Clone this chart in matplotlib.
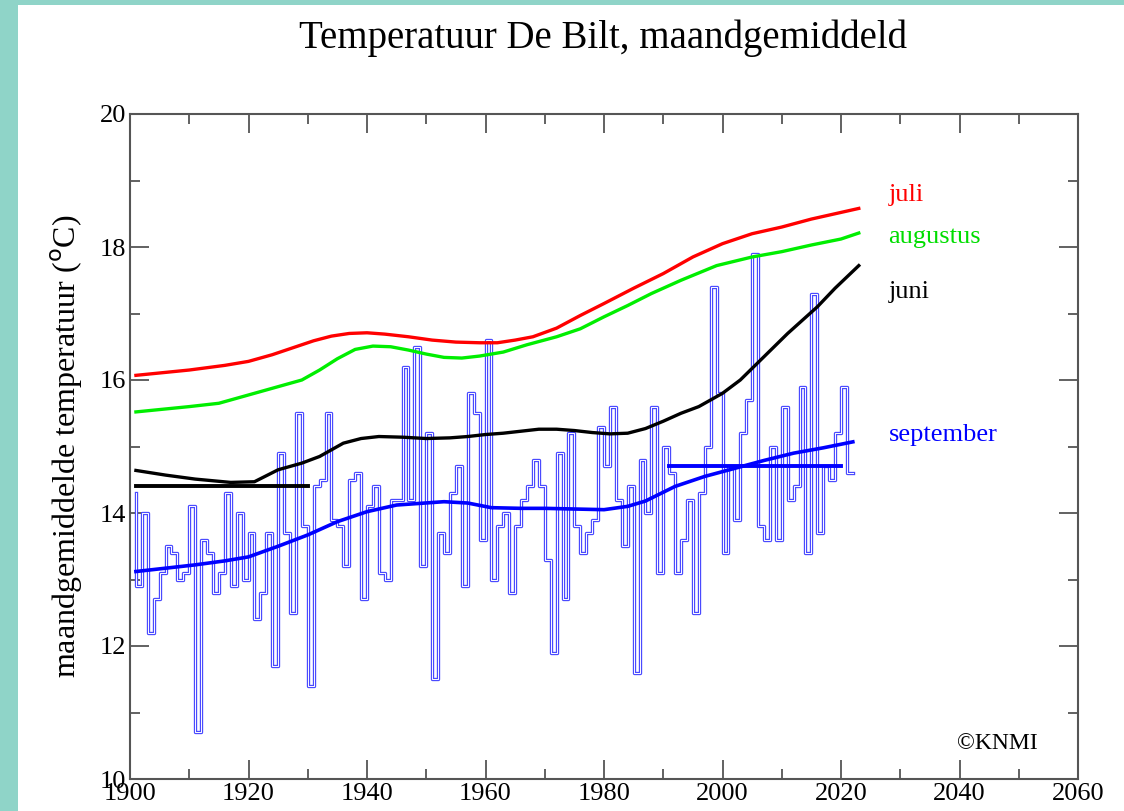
import numpy as np
import matplotlib.pyplot as plt
from matplotlib.patches import Rectangle
from matplotlib.ticker import MultipleLocator

plt.rcParams['font.family'] = ['Liberation Serif', 'DejaVu Serif']

# September maandgemiddelde per jaar (De Bilt)
sep_years = np.arange(1901, 2023)
sep_temp = [
    14.3, 12.9, 14.0, 12.2, 12.7, 13.1, 13.5, 13.4, 13.0, 13.1,
    14.1, 10.7, 13.6, 13.4, 12.8, 13.1, 14.3, 12.9, 14.0, 13.0,
    13.7, 12.4, 12.8, 13.7, 11.7, 14.9, 13.7, 12.5, 15.5, 13.8,
    11.4, 14.4, 14.5, 15.5, 13.9, 13.8, 13.2, 14.5, 14.6, 12.7,
    14.1, 14.4, 13.1, 13.0, 14.2, 14.2, 16.2, 14.2, 16.5, 13.2,
    15.2, 11.5, 13.7, 13.4, 14.3, 14.7, 12.9, 15.8, 15.5, 13.6,
    16.6, 13.0, 13.8, 14.0, 12.8, 13.8, 14.2, 14.4, 14.8, 14.4,
    13.3, 11.9, 14.9, 12.7, 15.2, 13.8, 13.4, 13.7, 13.9, 15.3,
    14.7, 15.6, 14.2, 13.5, 14.4, 11.6, 14.8, 14.0, 15.6, 13.1,
    15.0, 14.6, 13.1, 13.6, 14.2, 12.5, 14.3, 15.0, 17.4, 15.8,
    13.4, 14.7, 13.9, 15.2, 15.7, 17.9, 13.8, 13.6, 15.0, 13.6,
    15.6, 14.2, 14.4, 15.9, 13.4, 17.3, 13.7, 14.7, 14.5, 15.2,
    15.9, 14.6,
]

juli_years = [1901, 1910, 1916, 1920, 1924, 1928, 1931, 1934, 1937, 1940, 1943, 1947, 1951,
              1955, 1959, 1962, 1965, 1968, 1972, 1976, 1980, 1985, 1990, 1995, 2000, 2005,
              2010, 2015, 2020, 2023]
juli_temp = [16.07, 16.15, 16.22, 16.28, 16.38, 16.5, 16.59, 16.66, 16.7, 16.71, 16.69, 16.65, 16.6,
             16.57, 16.56, 16.56, 16.6, 16.65, 16.78, 16.97, 17.15, 17.38, 17.6, 17.85, 18.05, 18.2,
             18.3, 18.42, 18.52, 18.58]

aug_years = [1901, 1910, 1915, 1921, 1925, 1929, 1932, 1935, 1938, 1941, 1944, 1947, 1950,
             1953, 1956, 1959, 1963, 1967, 1972, 1976, 1980, 1984, 1988, 1993, 1999, 2005,
             2010, 2015, 2020, 2023]
aug_temp = [15.52, 15.6, 15.65, 15.8, 15.9, 16.0, 16.15, 16.32, 16.46, 16.51, 16.5, 16.45, 16.39,
            16.34, 16.33, 16.36, 16.42, 16.53, 16.65, 16.77, 16.95, 17.12, 17.3, 17.5, 17.72, 17.85,
            17.93, 18.03, 18.12, 18.21]

juni_years = [1901, 1906, 1911, 1917, 1921, 1925, 1929, 1932, 1934, 1936, 1939, 1942, 1946,
              1950, 1954, 1957, 1960, 1963, 1966, 1969, 1972, 1975, 1978, 1981, 1984, 1987,
              1990, 1993, 1996, 2000, 2003, 2007, 2011, 2016, 2019, 2023]
juni_temp = [14.64, 14.57, 14.51, 14.46, 14.47, 14.65, 14.75, 14.85, 14.95, 15.05, 15.12, 15.15, 15.14,
             15.12, 15.13, 15.15, 15.18, 15.2, 15.23, 15.26, 15.26, 15.24, 15.21, 15.19, 15.2, 15.27,
             15.38, 15.5, 15.6, 15.8, 16.0, 16.35, 16.7, 17.1, 17.38, 17.72]

sep_trend_years = [1901, 1911, 1916, 1920, 1925, 1930, 1935, 1940, 1945, 1953, 1957, 1961, 1966,
                   1970, 1975, 1980, 1984, 1987, 1992, 1997, 2002, 2007, 2012, 2017, 2022]
sep_trend_temp = [13.12, 13.22, 13.28, 13.34, 13.5, 13.67, 13.87, 14.02, 14.12, 14.17, 14.15, 14.08, 14.07,
                  14.07, 14.06, 14.05, 14.1, 14.18, 14.4, 14.55, 14.67, 14.79, 14.9, 14.98, 15.07]

# Normalen
norm_1901_years = [1901, 1930]
norm_1901_temp = [14.41, 14.41]
norm_1991_years = [1991, 2020]
norm_1991_temp = [14.70, 14.70]

fig = plt.figure(figsize=(11.24, 8.11), dpi=100, facecolor='#8fd4c8')
fig.patches.append(Rectangle((18 / 1124, 0), 1, 1 - 5 / 811, transform=fig.transFigure,
                             facecolor='white', edgecolor='none', zorder=-10))
ax = fig.add_axes([130 / 1124, 1 - 779 / 811, 948 / 1124, 665 / 811])

# jaarwaarden september als trappen (hol getekend)
ax.step(sep_years, sep_temp, where='pre', color='#4a4aff', lw=2.4, zorder=2)
ax.step(sep_years, sep_temp, where='pre', color='white', lw=0.7, zorder=2)

ax.plot(norm_1901_years, norm_1901_temp, color='black', lw=2.8, zorder=3)
ax.plot(norm_1991_years, norm_1991_temp, color='#0000ff', lw=2.8, zorder=3)

ax.plot(juli_years, juli_temp, color='#ff0000', lw=2.4, zorder=4)
ax.plot(aug_years, aug_temp, color='#00ee00', lw=2.4, zorder=4)
ax.plot(juni_years, juni_temp, color='black', lw=2.4, zorder=4)
ax.plot(sep_trend_years, sep_trend_temp, color='#0000ff', lw=2.6, zorder=4)

ax.text(2028, 18.78, 'juli', color='#ff0000', fontsize=19, va='center')
ax.text(2028, 18.15, 'augustus', color='#00dd00', fontsize=19, va='center')
ax.text(2028, 17.32, 'juni', color='black', fontsize=19, va='center')
ax.text(2028, 15.17, 'september', color='#0000ff', fontsize=19, va='center')
ax.text(2053.2, 10.54, '©KNMI', color='black', fontsize=17, ha='right', va='center')

ax.set_xlim(1900, 2060)
ax.set_ylim(10, 20)
ax.xaxis.set_major_locator(MultipleLocator(20))
ax.xaxis.set_minor_locator(MultipleLocator(10))
ax.yaxis.set_major_locator(MultipleLocator(2))
ax.yaxis.set_minor_locator(MultipleLocator(1))
ax.tick_params(which='both', direction='in', top=True, right=True, color='#555555', width=1.3)
ax.tick_params(which='major', length=14, labelsize=19, pad=3)
ax.tick_params(which='minor', length=7)
for s in ax.spines.values():
    s.set_color('#555555')
    s.set_linewidth(1.5)

ax.set_ylabel('maandgemiddelde temperatuur ($^{\\rm o}$C)', fontsize=23, labelpad=10)
fig.text(603 / 1124, 1 - 38 / 811, 'Temperatuur De Bilt, maandgemiddeld',
         fontsize=28, ha='center', va='center')

plt.savefig('out.png', dpi=100, facecolor=fig.get_facecolor())
